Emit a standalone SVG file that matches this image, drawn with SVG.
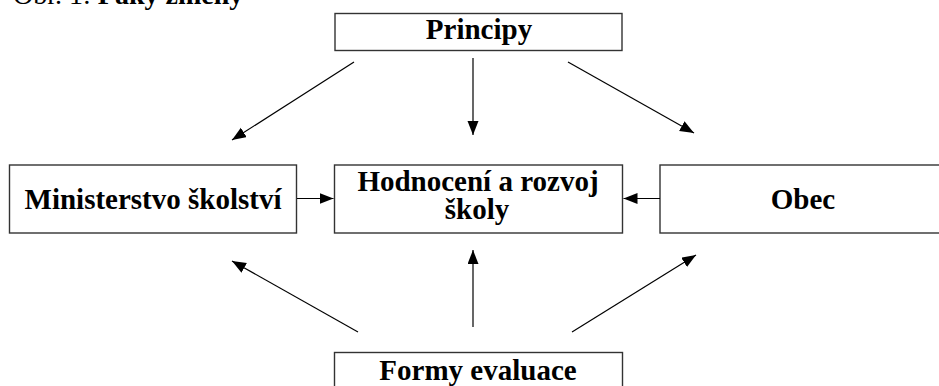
<svg xmlns="http://www.w3.org/2000/svg" width="939" height="386" viewBox="0 0 939 386">
<style>
.box{fill:#fff;stroke:#333;stroke-width:1.4}
.t{font-family:"Liberation Serif","Times New Roman",serif;font-size:29px;font-weight:bold;fill:#000;text-anchor:middle}
.cap{font-family:"Liberation Serif","Times New Roman",serif;font-size:28px;fill:#000}
.c{stroke:#000;stroke-width:1.2;fill:none;marker-end:url(#ah)}
</style>
<defs>
<marker id="ah" markerUnits="userSpaceOnUse" markerWidth="15" markerHeight="12" refX="14" refY="5.5" orient="auto" viewBox="0 0 15 12">
<path d="M0,0 L14,5.5 L0,11 z" fill="#000"/>
</marker>
</defs>
<text class="cap" x="13" y="4">Obr. 1: <tspan font-weight="bold">Páky změny</tspan></text>
<g id="principy"><rect class="box" x="335" y="13.5" width="287" height="37"/><text class="t" x="479" y="39">Principy</text></g>
<g id="ministerstvo"><rect class="box" x="9.5" y="165" width="287" height="68"/><text class="t" x="153" y="209">Ministerstvo školství</text></g>
<g id="hodnoceni"><rect class="box" x="334.5" y="165" width="288" height="68"/><text class="t" x="478" y="191">Hodnocení a rozvoj</text><text class="t" x="477" y="219">školy</text></g>
<g id="obec"><rect class="box" x="660" y="165" width="300" height="68"/><text class="t" x="803" y="209">Obec</text></g>
<g id="formy"><rect class="box" x="334.5" y="352.5" width="288" height="50"/><text class="t" x="478" y="380">Formy evaluace</text></g>
<g id="connectors">
<line class="c" x1="297" y1="198.5" x2="333.5" y2="198.5"/>
<line class="c" x1="660" y1="198.5" x2="623.5" y2="198.5"/>
<line class="c" x1="354" y1="62" x2="232" y2="140"/>
<line class="c" x1="473" y1="58" x2="473" y2="135"/>
<line class="c" x1="568" y1="62" x2="694" y2="133"/>
<line class="c" x1="358" y1="332" x2="232" y2="261"/>
<line class="c" x1="473" y1="327" x2="473" y2="250"/>
<line class="c" x1="572" y1="332" x2="696" y2="255"/>
</g>
</svg>
